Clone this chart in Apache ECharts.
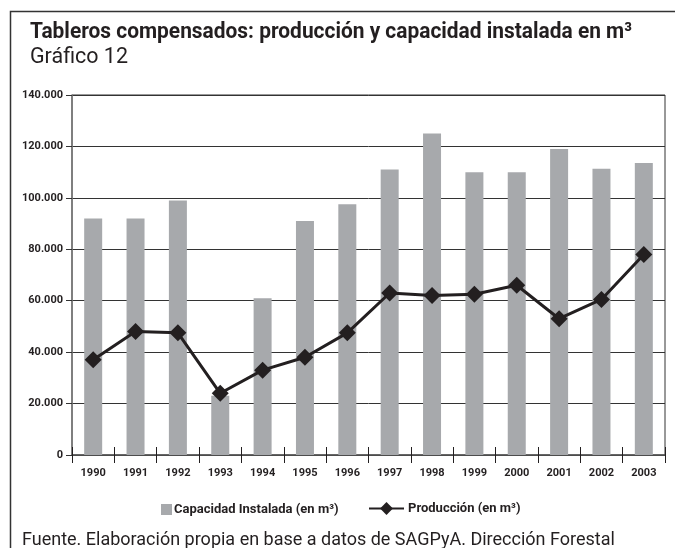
<!DOCTYPE html>
<html>
<head>
<meta charset="utf-8">
<script src="https://cdn.jsdelivr.net/npm/echarts@6/dist/echarts.min.js"></script>
<style>
  html, body { margin: 0; padding: 0; background: #fff; }
  #chart { width: 675px; height: 548px; }
</style>
</head>
<body>
<div id="chart"></div>
<script>
var years = ['1990', '1991', '1992', '1993', '1994', '1995', '1996', '1997', '1998', '1999', '2000', '2001', '2002', '2003'];
var capacidad = [92000, 92000, 99000, 23000, 61000, 91000, 97500, 111000, 125000, 110000, 110000, 119000, 111300, 113600];
var produccion = [37000, 48000, 47500, 24000, 33000, 38000, 47500, 63000, 62000, 62500, 66000, 53000, 60500, 78000];
var yTicks = { min: 0, max: 140000, step: 20000 };

var font = 'Roboto, "Liberation Sans", sans-serif';
var ink = '#231f20';

function miles(v) {
  return String(v).replace(/\B(?=(\d{3})+(?!\d))/g, '.');
}

// condensed look: squeeze a text to the width it has in the original
var ctx = document.createElement('canvas').getContext('2d');
function squeezed(text, css, left, top, width) {
  ctx.font = css;
  var w = ctx.measureText(text).width;
  return {
    type: 'text', x: left, y: top, scaleX: Math.min(1, width / w),
    style: { text: text, font: css, fill: ink }
  };
}

var chart = echarts.init(document.getElementById('chart'));

var option = {
  backgroundColor: '#fff',
  textStyle: { fontFamily: font, color: ink },
  animation: false,
  graphic: [
    {
      type: 'rect',
      shape: { x: 10.5, y: 11.5, width: 700, height: 560 },
      style: { fill: 'none', stroke: '#333', lineWidth: 1.5 }
    },
    squeezed('Tableros compensados: producción y capacidad instalada en m³', 'bold 22px ' + font, 30, 21, 602),
    squeezed('Gráfico 12', '22px ' + font, 30, 46, 98),
    squeezed('Fuente. Elaboración propia en base a datos de SAGPyA. Dirección Forestal', '18px ' + font, 22, 531, 611)
  ],
  grid: {
    left: 72, right: 10, top: 95, bottom: 93,
    show: true, borderColor: '#333', borderWidth: 1
  },
  legend: [
    {
      data: [{ name: 'Capacidad Instalada (en m³)', icon: 'rect' }],
      left: 156, top: 498,
      itemWidth: 11, itemHeight: 11, itemGap: 0,
      textStyle: { fontFamily: font, fontWeight: 'bold', fontSize: 13, color: ink, padding: [0, 0, 0, -3] }
    },
    {
      data: ['Producción (en m³)'],
      left: 363, top: 497,
      itemWidth: 35, itemHeight: 16,
      textStyle: { fontFamily: font, fontWeight: 'bold', fontSize: 13, color: ink, padding: [0, 0, 0, -1] }
    }
  ],
  xAxis: [
    {
      type: 'category',
      data: years,
      position: 'bottom',
      axisLine: { lineStyle: { color: '#555', width: 1.5 } },
      axisTick: { show: true, length: 8, lineStyle: { color: ink } },
      axisLabel: { fontFamily: font, fontWeight: 'bold', fontSize: 11, color: ink, margin: 13 }
    },
    {
      type: 'category',
      data: years,
      position: 'bottom',
      axisLine: { show: false },
      axisTick: { show: true, inside: true, length: 8, lineStyle: { color: ink } },
      axisLabel: { show: false }
    }
  ],
  yAxis: {
    type: 'value',
    min: yTicks.min, max: yTicks.max, interval: yTicks.step,
    axisLine: { show: true, lineStyle: { color: '#777', width: 1.5 } },
    axisTick: { show: true, length: 6, lineStyle: { color: '#333' } },
    splitLine: { lineStyle: { color: '#333', width: 1 } },
    axisLabel: {
      formatter: miles, fontFamily: font, fontWeight: 'bold', fontSize: 11, color: ink, margin: 9
    }
  },
  series: [
    {
      name: 'Capacidad Instalada (en m³)',
      type: 'bar',
      data: capacidad,
      barWidth: 18,
      itemStyle: { color: '#a7a9ac' }
    },
    {
      name: 'Producción (en m³)',
      type: 'line',
      data: produccion,
      symbol: 'diamond',
      symbolSize: 17,
      lineStyle: { color: ink, width: 3 },
      itemStyle: { color: ink }
    }
  ]
};

chart.setOption(option);
</script>
</body>
</html>
